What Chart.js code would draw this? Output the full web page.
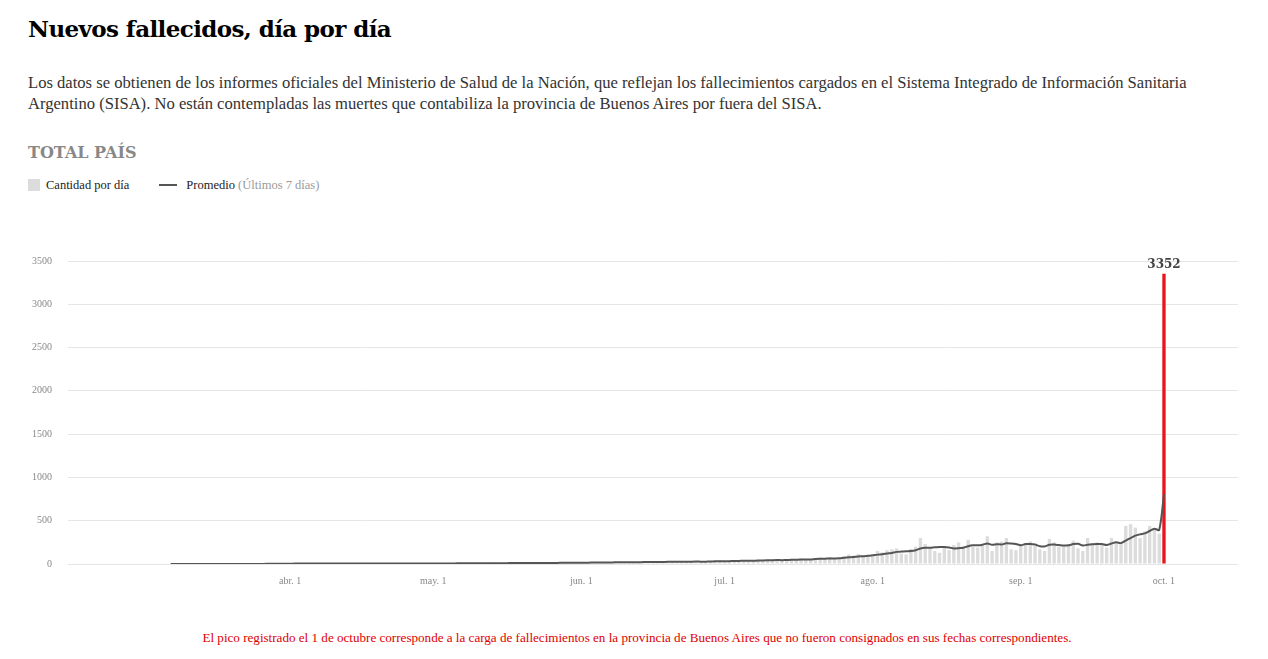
<!DOCTYPE html>
<html>
<head>
<meta charset="utf-8">
<script src="https://cdn.jsdelivr.net/npm/chart.js@4"></script>
<style>
  body { margin: 0; background: #fff; font-family: "Liberation Serif", serif; color: #222; }
  h1 { position: absolute; left: 28px; top: 15px; margin: 0; font: bold 23px "DejaVu Serif", serif; color: #000; letter-spacing: -0.6px; }
  .intro { position: absolute; left: 28px; top: 72px; width: 1220px; font-size: 16.6px; line-height: 21px; color: #333; }
  h2 { position: absolute; left: 28px; top: 143px; margin: 0; font: bold 16px "DejaVu Serif", serif; color: #888; }
  .legend { position: absolute; left: 28px; top: 178px; font-size: 12.5px; color: #222; }
  .legend span.box { display: inline-block; width: 12px; height: 12px; background: #dcdcdc; vertical-align: -2px; margin-right: 6px; }
  .legend span.ln { display: inline-block; width: 18px; height: 2px; background: #555; vertical-align: 3px; margin: 0 9px 0 30px; }
  .legend em { font-style: normal; color: #999; }
  #wrap { position: absolute; left: 0; top: 220px; width: 1268px; height: 380px; }
  .note { position: absolute; left: 0; width: 1274px; top: 630px; text-align: center; font-size: 13.1px; color: #e00000; }
</style>
</head>
<body>
<h1>Nuevos fallecidos, día por día</h1>
<div class="intro">Los datos se obtienen de los informes oficiales del Ministerio de Salud de la Nación, que reflejan los fallecimientos cargados en el Sistema Integrado de Información Sanitaria Argentino (SISA). No están contempladas las muertes que contabiliza la provincia de Buenos Aires por fuera del SISA.</div>
<h2>TOTAL PAÍS</h2>
<div class="legend"><span class="box"></span>Cantidad por día<span class="ln"></span>Promedio <em>(Últimos 7 días)</em></div>
<div id="wrap"><canvas id="chart"></canvas></div>
<div class="note">El pico registrado el 1 de octubre corresponde a la carga de fallecimientos en la provincia de Buenos Aires que no fueron consignados en sus fechas correspondientes.</div>
<script>
// daily deaths, Mar 7 -> Oct 1 2020
const daily = {
  mar: [0,1,0,0,0,1,0,0,0,1,0,0,0,1,0,1,0,2,3,1,4,5,3,2,5],
  abr: [8,4,6,3,6,7,5,8,6,7,5,4,5,6,9,8,3,7,5,6,4,6,5,6,8,7,3,7,4,6],
  may: [8,5,7,9,6,10,12,8,7,6,9,11,10,14,9,7,12,15,13,10,11,14,9,13,17,14,12,15,16,18,12],
  jun: [14,18,20,22,17,15,18,25,21,24,26,19,17,20,28,30,27,24,31,22,18,25,33,36,30,28,22,26,38,40],
  jul: [35,42,38,30,34,44,40,50,45,52,48,40,38,54,60,58,64,50,44,70,75,68,80,62,58,90,110,100,115,98,95],
  ago: [90,150,135,160,170,180,120,110,175,200,300,230,180,150,130,190,160,220,250,210,280,200,190,210,320,150,250,260,300,170,160],
  sep: [230,240,260,210,170,150,290,250,200,220,230,270,180,150,300,240,250,230,190,300,250,230,440,460,420,300,380,440,410,350],
  oct: [3352]
};
const values = [].concat(daily.mar, daily.abr, daily.may, daily.jun, daily.jul, daily.ago, daily.sep, daily.oct);

const meses = ['ene.','feb.','mar.','abr.','may.','jun.','jul.','ago.','sep.','oct.'];
const labels = [], cantidad = [], promedio = [], colors = [];
const start = new Date(2020, 1, 15), firstData = new Date(2020, 2, 7);
for (let d = new Date(start); d <= new Date(2020, 9, 16); d.setDate(d.getDate() + 1)) {
  labels.push(meses[d.getMonth()] + ' ' + d.getDate());
  const i = Math.round((d - firstData) / 86400000);
  if (i >= 0 && i < values.length) {
    cantidad.push(values[i]);
    const w = values.slice(Math.max(0, i - 6), i + 1);
    promedio.push(w.reduce((a, b) => a + b, 0) / w.length);
    colors.push(i === values.length - 1 ? '#e8151b' : '#dcdcdc');
  } else {
    cantidad.push(null); promedio.push(null); colors.push('#dcdcdc');
  }
}

const peakLabel = {
  id: 'peakLabel',
  afterDatasetsDraw(chart) {
    const meta = chart.getDatasetMeta(1);
    const idx = cantidad.indexOf(3352);
    const bar = meta.data[idx];
    const ctx = chart.ctx;
    ctx.save();
    ctx.font = 'bold 12px "DejaVu Serif", serif';
    ctx.fillStyle = '#444';
    ctx.textAlign = 'center';
    ctx.fillText('3352', bar.x, bar.y - 6);
    ctx.restore();
  }
};

new Chart(document.getElementById('chart'), {
  type: 'bar',
  data: {
    labels: labels,
    datasets: [
      { type: 'line', label: 'Promedio', data: promedio, borderColor: '#555', borderWidth: 2, pointRadius: 0, tension: 0.3, order: 0 },
      { label: 'Cantidad por día', data: cantidad, backgroundColor: colors, categoryPercentage: 1, barPercentage: 0.7, order: 1 }
    ]
  },
  options: {
    responsive: true,
    maintainAspectRatio: false,
    animation: false,
    layout: { padding: { top: 41, right: 30, left: 0, bottom: 0 } },
    plugins: { legend: { display: false }, tooltip: { enabled: false } },
    scales: {
      x: {
        grid: { display: false },
        border: { display: false },
        afterFit: s => { s.height = 36; },
        ticks: {
          autoSkip: false, maxRotation: 0,
          color: '#888', font: { family: 'Liberation Serif', size: 10 },
          callback: function (v) {
            const l = this.getLabelForValue(v);
            return (l.endsWith(' 1') && !l.startsWith('mar') && !l.startsWith('feb')) ? l : '';
          }
        }
      },
      y: {
        min: 0, max: 3500,
        afterFit: s => { s.width = 68; },
        border: { display: false },
        grid: { color: '#e6e6e6', drawTicks: false },
        ticks: { stepSize: 500, padding: 16, color: '#888', font: { family: 'Liberation Serif', size: 10 }, callback: v => String(v) }
      }
    }
  },
  plugins: [peakLabel]
});
</script>
</body>
</html>
